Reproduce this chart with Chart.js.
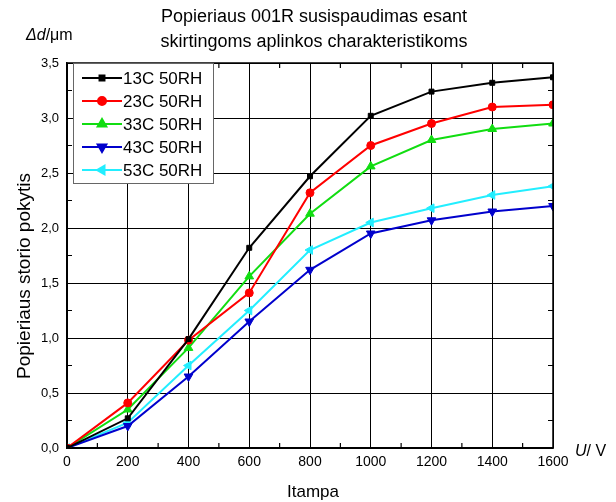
<!DOCTYPE html>
<html>
<head>
<meta charset="utf-8">
<script src="https://cdn.jsdelivr.net/npm/chart.js@4.4.1/dist/chart.umd.min.js"></script>
<style>
  html, body { margin: 0; padding: 0; background: #fff; }
  #wrap { width: 616px; height: 502px; }
</style>
</head>
<body>
<div id="wrap"><canvas id="chart" width="616" height="502"></canvas></div>
<script>
// itampa, V
const voltage = [0, 200, 400, 600, 800, 1000, 1200, 1400, 1600];
const seriesNames = ['13C 50RH', '23C 50RH', '33C 50RH', '43C 50RH', '53C 50RH'];
const d13 = [0, 0.27, 0.99, 1.82, 2.47, 3.02, 3.24, 3.32, 3.37];
const d23 = [0, 0.41, 0.98, 1.41, 2.32, 2.75, 2.95, 3.10, 3.12];
const d33 = [0, 0.35, 0.91, 1.56, 2.13, 2.56, 2.80, 2.90, 2.95];
const d43 = [0, 0.20, 0.65, 1.15, 1.62, 1.95, 2.07, 2.15, 2.20];
const d53 = [0, 0.23, 0.75, 1.25, 1.80, 2.05, 2.18, 2.30, 2.38];
const yTicks = [0, 0.5, 1.0, 1.5, 2.0, 2.5, 3.0, 3.5];

const colors = ['#000000', '#ff0000', '#11dd11', '#0000cc', '#22eeff'];
const styles = [
  { pointStyle: 'rect', radius: 3.5, rotation: 0 },
  { pointStyle: 'circle', radius: 4, rotation: 0 },
  { pointStyle: 'triangle', radius: 5, rotation: 0 },
  { pointStyle: 'triangle', radius: 5, rotation: 180 },
  { pointStyle: 'triangle', radius: 5, rotation: 270 }
];
const allData = [d13, d23, d33, d43, d53];

const FONT = '"Liberation Sans", Arial, sans-serif';

function pts(arr) {
  return arr.map((v, i) => ({ x: voltage[i], y: v }));
}

const datasets = allData.map((arr, i) => ({
  label: seriesNames[i],
  data: pts(arr),
  borderColor: colors[i],
  backgroundColor: colors[i],
  borderWidth: 2,
  pointStyle: styles[i].pointStyle,
  pointRadius: styles[i].radius,
  pointRotation: styles[i].rotation,
  pointBorderWidth: 1,
  tension: 0
}));

// frame, minor ticks, legend and loose texts
const extras = {
  id: 'extras',
  afterDatasetsDraw(chart) {
    const ctx = chart.ctx;
    const a = chart.chartArea;
    const xs = chart.scales.x, ys = chart.scales.y;
    ctx.save();
    ctx.strokeStyle = '#000';
    ctx.lineWidth = 1.5;
    ctx.strokeRect(a.left, a.top, a.right - a.left, a.bottom - a.top);

    // minor ticks
    ctx.lineWidth = 1.2;
    ctx.beginPath();
    for (let v = 100; v < 1600; v += 200) {
      const px = xs.getPixelForValue(v);
      ctx.moveTo(px, a.bottom); ctx.lineTo(px, a.bottom - 5);
      ctx.moveTo(px, a.top); ctx.lineTo(px, a.top + 5);
    }
    for (let v = 0.25; v < 3.5; v += 0.5) {
      const py = ys.getPixelForValue(v);
      ctx.moveTo(a.left, py); ctx.lineTo(a.left + 5, py);
      ctx.moveTo(a.right, py); ctx.lineTo(a.right - 5, py);
    }
    ctx.stroke();

    // legend
    const lx = a.left + 6, ly = a.top, lw = 140, lh = 120;
    ctx.fillStyle = '#fff';
    ctx.fillRect(lx, ly, lw, lh);
    ctx.lineWidth = 1;
    ctx.strokeStyle = '#666';
    ctx.strokeRect(lx + 0.5, ly + 0.5, lw, lh);
    ctx.font = '17px ' + FONT;
    ctx.textBaseline = 'middle';
    ctx.textAlign = 'left';
    chart.data.datasets.forEach((ds, i) => {
      const y = ly + 15 + i * 23;
      ctx.strokeStyle = ds.borderColor;
      ctx.lineWidth = 2;
      ctx.beginPath();
      ctx.moveTo(lx + 9, y); ctx.lineTo(lx + 49, y);
      ctx.stroke();
      ctx.fillStyle = ds.backgroundColor;
      Chart.helpers.drawPoint(ctx, {
        pointStyle: ds.pointStyle, radius: ds.pointRadius,
        rotation: ds.pointRotation, borderWidth: 1
      }, lx + 29, y);
      ctx.fillStyle = '#000';
      ctx.fillText(ds.label, lx + 50, y + 1);
    });

    // title
    ctx.fillStyle = '#000';
    ctx.textAlign = 'center';
    ctx.font = '18px ' + FONT;
    ctx.fillText('Popieriaus 001R susispaudimas esant', 314, 17);
    ctx.fillText('skirtingoms aplinkos charakteristikoms', 314, 42);

    // axis titles
    ctx.font = '17px ' + FONT;
    ctx.fillText('Itampa', 313, 492);
    ctx.save();
    ctx.translate(25, 276);
    ctx.rotate(-Math.PI / 2);
    ctx.font = '19px ' + FONT;
    ctx.fillText('Popieriaus storio pokytis', 0, 0);
    ctx.restore();

    // units
    ctx.textAlign = 'left';
    ctx.font = 'italic 16px ' + FONT;
    ctx.fillText('\u0394d', 26, 36);
    let w = ctx.measureText('\u0394d').width;
    ctx.font = '16px ' + FONT;
    ctx.fillText('/\u03bcm', 26 + w, 36);

    ctx.font = 'italic 16px ' + FONT;
    ctx.fillText('U', 575, 452);
    w = ctx.measureText('U').width;
    ctx.font = '16px ' + FONT;
    ctx.fillText('/ V', 575 + w, 452);
    ctx.restore();
  }
};

const config = {
  type: 'line',
  data: { datasets: datasets },
  options: {
    responsive: false,
    animation: false,
    layout: { padding: { top: 63, right: 63, left: 0, bottom: 0 } },
    plugins: {
      legend: { display: false },
      title: { display: false },
      tooltip: { enabled: false }
    },
    scales: {
      x: {
        type: 'linear',
        min: 0,
        max: 1600,
        afterFit: (s) => { s.height = 54; },
        ticks: {
          stepSize: 200,
          color: '#000',
          font: { family: FONT, size: 14 },
          padding: 6,
          maxRotation: 0,
          callback: (v) => String(v)
        },
        grid: { color: '#000', lineWidth: 1, drawTicks: false },
        border: { color: '#000', width: 1.5 }
      },
      y: {
        type: 'linear',
        min: 0,
        max: 3.5,
        afterFit: (s) => { s.width = 67; },
        afterBuildTicks: (s) => { s.ticks = yTicks.map(v => ({ value: v })); },
        ticks: {
          color: '#000',
          font: { family: FONT, size: 13 },
          padding: 8,
          callback: (v) => Number(v).toFixed(1).replace('.', ',')
        },
        grid: { color: '#000', lineWidth: 1, drawTicks: false },
        border: { color: '#000', width: 1.5 }
      }
    }
  },
  plugins: [extras]
};

var ctx = document.getElementById('chart').getContext('2d');
var myChart = new Chart(ctx, config);
</script>
</body>
</html>
